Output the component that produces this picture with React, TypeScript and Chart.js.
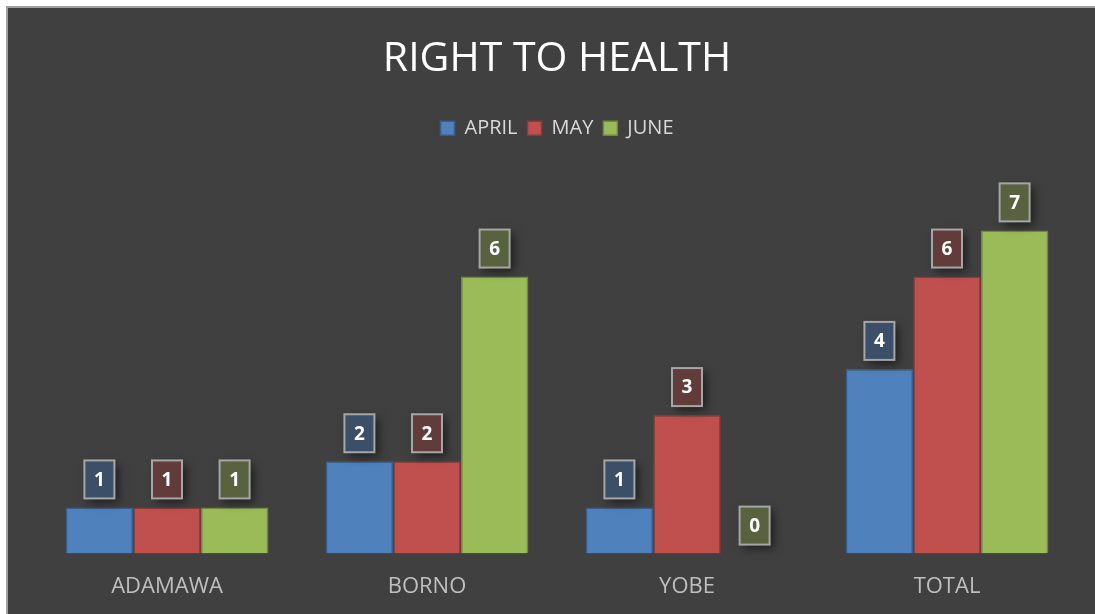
import React, { useEffect, useRef } from "react";
import { Chart, registerables } from "chart.js";

Chart.register(...registerables);

const categories = ["ADAMAWA", "BORNO", "YOBE", "TOTAL"];
const seriesNames = ["APRIL", "MAY", "JUNE"];
const aprilValues = [1, 2, 1, 4];
const mayValues = [1, 2, 3, 6];
const juneValues = [1, 6, 0, 7];

const barColors = ["#4f81bd", "#c0504d", "#9bbb59"];
const barBorders = ["#385d8a", "#8c3836", "#71893f"];
const labelFills = ["#3c4f69", "#623c3b", "#58623f"];

const FONT = "'Open Sans', sans-serif";

const legendMargin = {
  id: "legendMargin",
  beforeInit(chart: any) {
    const legend = chart.legend;
    if (!legend) return;
    const orig = legend.fit;
    legend.fit = function () {
      orig.bind(legend)();
      this.height += 36;
    };
  },
};

const labelBoxes = {
  id: "labelBoxes",
  afterDatasetsDraw(chart: any) {
    const ctx = chart.ctx;
    chart.data.datasets.forEach((ds: any, di: number) => {
      const meta = chart.getDatasetMeta(di);
      meta.data.forEach((bar: any, i: number) => {
        const v = ds.data[i];
        const w = 30;
        const h = 38;
        const x = bar.x - w / 2;
        const y = bar.y - 9 - h;
        ctx.save();
        ctx.shadowColor = "rgba(0,0,0,0.55)";
        ctx.shadowBlur = 10;
        ctx.shadowOffsetX = 4;
        ctx.shadowOffsetY = 4;
        ctx.fillStyle = labelFills[di];
        ctx.fillRect(x, y, w, h);
        ctx.restore();
        ctx.save();
        ctx.strokeStyle = "#a6a6a6";
        ctx.lineWidth = 2;
        ctx.strokeRect(x, y, w, h);
        ctx.fillStyle = "#ffffff";
        ctx.font = `bold 19px ${FONT}`;
        ctx.textAlign = "center";
        ctx.textBaseline = "middle";
        ctx.fillText(String(v), bar.x, y + h / 2 + 1);
        ctx.restore();
      });
    });
  },
};

export default function App() {
  const ref = useRef<HTMLCanvasElement>(null);
  useEffect(() => {
    document.documentElement.style.margin = "0";
    document.documentElement.style.overflow = "hidden";
    document.body.style.margin = "0";
    document.body.style.overflow = "hidden";
    document.body.style.background = "#ffffff";
    const seriesValues = [aprilValues, mayValues, juneValues];
    const chart = new Chart(ref.current!, {
      type: "bar",
      data: {
        labels: categories,
        datasets: seriesNames.map((name, i) => ({
          label: name,
          data: seriesValues[i],
          backgroundColor: barColors[i],
          borderColor: barBorders[i],
          borderWidth: 1.5,
          categoryPercentage: 0.78,
          barPercentage: 1,
        })),
      },
      options: {
        animation: false,
        responsive: false,
        maintainAspectRatio: false,
        layout: { padding: { left: 29, right: 18, top: 0, bottom: 8 } },
        plugins: {
          title: {
            display: true,
            text: "RIGHT TO HEALTH",
            color: "#ffffff",
            font: { family: FONT, size: 41, weight: "normal" },
            padding: { top: 27, bottom: 24 },
          },
          legend: {
            display: true,
            position: "top",
            labels: {
              color: "#d9d9d9",
              font: { family: FONT, size: 20 },
              boxWidth: 14,
              boxHeight: 14,
              padding: 10,
            },
          },
          tooltip: { enabled: false },
        },
        scales: {
          x: {
            grid: { display: false, drawTicks: false },
            border: { display: false },
            ticks: {
              color: "#bfbfbf",
              font: { family: FONT, size: 22 },
              padding: 20,
            },
          },
          y: {
            display: false,
            min: 0,
            max: 8,
          },
        },
      },
      plugins: [legendMargin, labelBoxes],
    });
    return () => chart.destroy();
  }, []);
  return (
    <div
      style={{
        position: "absolute",
        left: 6,
        top: 6,
        width: 1089,
        height: 630,
        boxSizing: "border-box",
        borderLeft: "2px solid #a0a0a0",
        borderTop: "2px solid #a0a0a0",
        background: "#404040",
      }}
    >
      <canvas ref={ref} width={1087} height={620} style={{ display: "block" }} />
    </div>
  );
}
